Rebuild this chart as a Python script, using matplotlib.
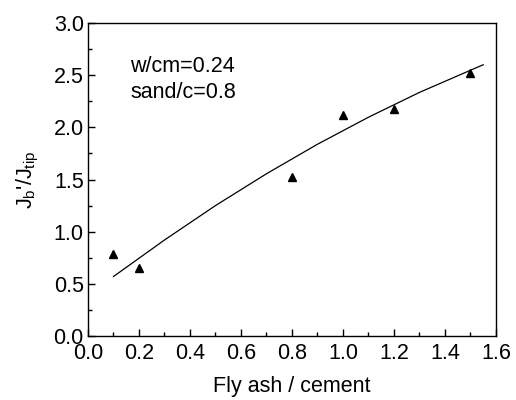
import matplotlib
matplotlib.use("Agg")
import matplotlib.pyplot as plt
from matplotlib.ticker import MultipleLocator

plt.rcParams['font.family'] = ['Liberation Sans', 'DejaVu Sans']
plt.rcParams['mathtext.default'] = 'regular'

# measured data
fly_ash = [0.1, 0.2, 0.8, 1.0, 1.2, 1.5]
ratio = [0.79, 0.655, 1.52, 2.115, 2.18, 2.52]

# fitted curve
fit_x = [0.1, 0.3, 0.5, 0.7, 0.9, 1.1, 1.3, 1.55]
fit_y = [0.57, 0.92, 1.25, 1.555, 1.838, 2.097, 2.335, 2.60]

xticks = [0.0, 0.2, 0.4, 0.6, 0.8, 1.0, 1.2, 1.4, 1.6]
yticks = [0.0, 0.5, 1.0, 1.5, 2.0, 2.5, 3.0]

FS = 15.5

fig = plt.figure(figsize=(5.16, 4.0), dpi=100)
ax = fig.add_axes([0.1705, 0.16, 0.7907, 0.7825])

ax.plot(fit_x, fit_y, color='black', lw=0.9)
ax.plot(fly_ash, ratio, linestyle='none', marker='^', color='black', markersize=6)

ax.set_xlim(0, 1.6)
ax.set_ylim(0, 3.0)
ax.set_xticks(xticks)
ax.set_yticks(yticks)
ax.set_xticklabels([f"{v:.1f}" for v in xticks])
ax.set_yticklabels([f"{v:.1f}" for v in yticks])
ax.xaxis.set_minor_locator(MultipleLocator(0.1))
ax.yaxis.set_minor_locator(MultipleLocator(0.25))
ax.tick_params(which='both', direction='in', top=False, right=False, labelsize=FS, width=1)
ax.tick_params(which='major', length=5)
ax.tick_params(axis='x', which='major', pad=5)
ax.tick_params(axis='y', which='major', pad=3)
ax.tick_params(which='minor', length=3)
for s in ax.spines.values():
    s.set_linewidth(1)

ax.set_xlabel('Fly ash / cement', fontsize=FS, labelpad=9)
ax.set_ylabel("J$_b$'/J$_{tip}$", fontsize=FS, labelpad=9)

ax.text(0.165, 2.46, 'w/cm=0.24\nsand/c=0.8', fontsize=FS, va='center', ha='left', linespacing=1.3)

fig.savefig('out.png', dpi=100)
